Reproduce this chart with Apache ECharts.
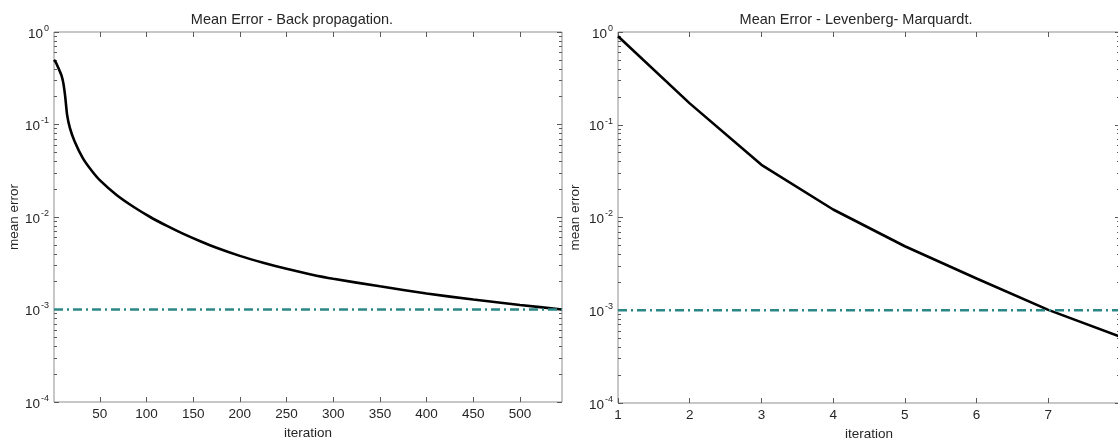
<!DOCTYPE html>
<html>
<head>
<meta charset="utf-8">
<title>Mean Error</title>
<script src="https://cdn.jsdelivr.net/npm/echarts@6/dist/echarts.min.js"></script>
<style>
  html, body { margin: 0; padding: 0; background: #ffffff; }
  #chart { width: 1118px; height: 438px; }
</style>
</head>
<body>
<div id="chart"></div>
<script>
// Back propagation training: mean error per iteration
const bpIter  = [1, 3, 7, 9, 11, 13, 15, 18, 23, 32, 41, 50, 68, 86, 104, 122, 139, 157, 175, 200, 225, 250, 275, 300, 350, 400, 450, 500, 545];
const bpError = [0.50, 0.47, 0.38, 0.34, 0.28, 0.20, 0.128, 0.092, 0.066, 0.043, 0.032, 0.025, 0.0173, 0.0129, 0.0100, 0.0080, 0.0066, 0.0055, 0.00465, 0.0038, 0.0032, 0.00275, 0.00241, 0.00215, 0.00178, 0.00149, 0.00128, 0.00112, 0.00100];

// Levenberg-Marquardt training: mean error per iteration
const lmIter  = [1, 2, 3, 4, 5, 6, 7, 8];
const lmError = [0.90, 0.17, 0.037, 0.0122, 0.0049, 0.0022, 0.00101, 0.00052];

// Training goal
const goalError = 0.001;

// Axis ticks and tick labels
const bpTicks = [50, 100, 150, 200, 250, 300, 350, 400, 450, 500];
const lmTicks = [1, 2, 3, 4, 5, 6, 7, 8];
const lmTickLabels = [1, 2, 3, 4, 5, 6, 7];
const yDecades = [1e-4, 1e-3, 1e-2, 1e-1, 1];

const titles = ['Mean Error - Back propagation.', 'Mean Error - Levenberg- Marquardt.'];
const xName = 'iteration';
const yName = 'mean error';

const FONT = '"Liberation Sans", Arial, Helvetica, sans-serif';
const TEXT = '#262626';
const FRAME = '#8f8f8f';
const TICK = '#5a5a5a';

// minor log ticks 2..9 within each decade
const yMinor = [];
for (let k = -4; k < 0; k++) {
  for (let m = 2; m <= 9; m++) yMinor.push(+(m * Math.pow(10, k)).toPrecision(3));
}

const grids = [
  { left: 54, top: 32, width: 508, height: 370 },
  { left: 618, top: 32, width: 502, height: 371 }
];
const xRanges = [[1, 545], [1, 8]];
const xTickSets = [bpTicks, lmTicks];
const xLabelSets = [bpTicks, lmTickLabels];

const xAxes = [];
const yAxes = [];
grids.forEach((g, gi) => {
  const [xmin, xmax] = xRanges[gi];
  const ticks = xTickSets[gi];
  // bottom axis with labels
  xAxes.push({
    gridIndex: gi, type: 'value', position: 'bottom', min: xmin, max: xmax,
    name: xName, nameLocation: 'middle', nameGap: 19,
    nameTextStyle: { fontFamily: FONT, fontSize: 13.5, color: TEXT },
    axisLine: { show: false }, splitLine: { show: false },
    axisTick: { show: true, inside: true, length: 5, lineStyle: { color: TICK }, customValues: ticks },
    axisLabel: { show: true, margin: 5, fontFamily: FONT, fontSize: 13.5, color: TEXT, customValues: xLabelSets[gi] }
  });
  // top axis, ticks only
  xAxes.push({
    gridIndex: gi, type: 'value', position: 'top', min: xmin, max: xmax,
    axisLine: { show: false }, splitLine: { show: false },
    axisTick: { show: true, inside: true, length: 5, lineStyle: { color: TICK }, customValues: ticks },
    axisLabel: { show: false }
  });
  const logBase = {
    gridIndex: gi, type: 'log', logBase: 10, min: 1e-4, max: 1,
    axisLine: { show: false }, splitLine: { show: false }
  };
  // left decade ticks with labels
  yAxes.push(Object.assign({}, logBase, {
    position: 'left',
    name: yName, nameLocation: 'middle', nameGap: gi === 0 ? 33 : 36,
    nameTextStyle: { fontFamily: FONT, fontSize: 13.5, color: TEXT },
    axisTick: { show: true, inside: true, length: 5, lineStyle: { color: TICK }, customValues: yDecades },
    axisLabel: {
      show: true, margin: 5, customValues: yDecades,
      formatter: v => '{b|10}{s|' + Math.round(Math.log10(v)) + '}',
      rich: {
        b: { fontFamily: FONT, fontSize: 13.5, color: TEXT, lineHeight: 18, padding: [4, 0, 0, 0] },
        s: { fontFamily: FONT, fontSize: 9, color: TEXT, lineHeight: 12, verticalAlign: 'top', padding: [1, 0, 0, 1] }
      }
    }
  }));
  // right decade ticks
  yAxes.push(Object.assign({}, logBase, {
    position: 'right',
    axisTick: { show: true, inside: true, length: 5, lineStyle: { color: TICK }, customValues: yDecades },
    axisLabel: { show: false }
  }));
  // left minor ticks
  yAxes.push(Object.assign({}, logBase, {
    position: 'left',
    axisTick: { show: true, inside: true, length: 3, lineStyle: { color: TICK }, customValues: yMinor },
    axisLabel: { show: false }
  }));
  // right minor ticks
  yAxes.push(Object.assign({}, logBase, {
    position: 'right',
    axisTick: { show: true, inside: true, length: 3, lineStyle: { color: TICK }, customValues: yMinor },
    axisLabel: { show: false }
  }));
});

const curveStyle = { color: '#000000', width: 2.6 };
const goalStyle = { color: '#2c8787', width: 2.5, type: [9, 4, 2, 4] };

const series = [
  {
    type: 'line', xAxisIndex: 0, yAxisIndex: 0, showSymbol: false, smooth: 0.2,
    data: bpIter.map((x, i) => [x, bpError[i]]), lineStyle: curveStyle, z: 2
  },
  {
    type: 'line', xAxisIndex: 0, yAxisIndex: 0, showSymbol: false,
    data: [[xRanges[0][0], goalError], [xRanges[0][1], goalError]], lineStyle: goalStyle, z: 3
  },
  {
    type: 'line', xAxisIndex: 2, yAxisIndex: 4, showSymbol: false,
    data: lmIter.map((x, i) => [x, lmError[i]]), lineStyle: curveStyle, z: 2
  },
  {
    type: 'line', xAxisIndex: 2, yAxisIndex: 4, showSymbol: false,
    data: [[xRanges[1][0], goalError], [xRanges[1][1], goalError]], lineStyle: goalStyle, z: 3
  }
];

const chart = echarts.init(document.getElementById('chart'), null, { renderer: 'canvas' });
chart.setOption({
  animation: false,
  backgroundColor: '#ffffff',
  title: [
    { text: titles[0], left: 287, top: 7, textAlign: 'center',
      textStyle: { fontFamily: FONT, fontSize: 14.5, fontWeight: 'normal', color: TEXT } },
    { text: titles[1], left: 851, top: 7, textAlign: 'center',
      textStyle: { fontFamily: FONT, fontSize: 14.5, fontWeight: 'normal', color: TEXT } }
  ],
  grid: grids.map(g => Object.assign({
    show: true, borderColor: FRAME, borderWidth: 1, backgroundColor: 'transparent',
    containLabel: false, outerBoundsMode: 'none'
  }, g)),
  xAxis: xAxes,
  yAxis: yAxes,
  series: series
});
</script>
</body>
</html>
